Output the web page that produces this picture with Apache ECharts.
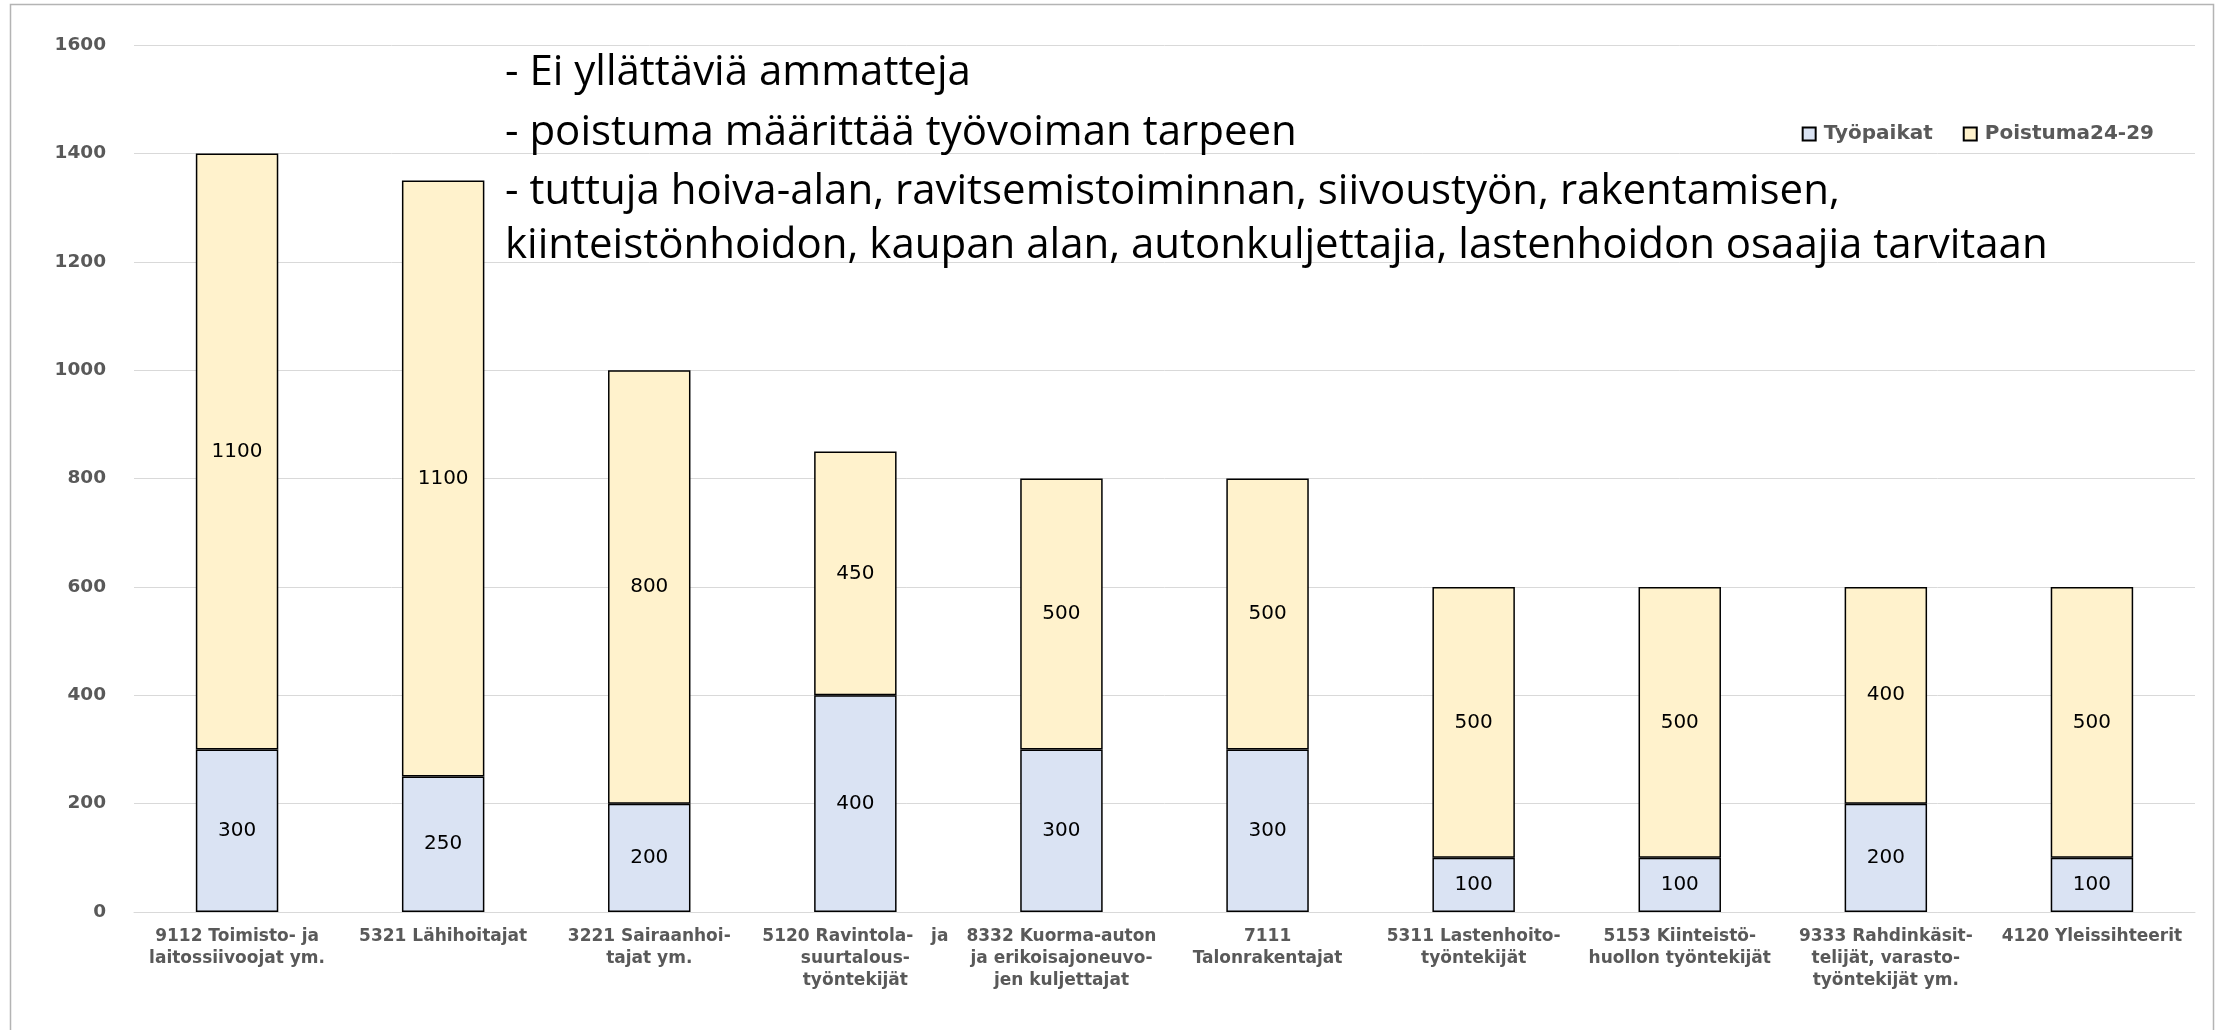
<!DOCTYPE html>
<html>
<head>
<meta charset="utf-8">
<script src="https://cdn.jsdelivr.net/npm/echarts@6/dist/echarts.min.js"></script>
<style>
html,body{margin:0;padding:0;background:#fff;}
#chart{width:2220px;height:1030px;}
</style>
</head>
<body>
<div id="chart"></div>
<script>
const categories = [
  "9112 Toimisto- ja\nlaitossiivoojat ym.",
  "5321 Lähihoitajat",
  "3221 Sairaanhoi-\ntajat ym.",
  "5120 Ravintola-   ja\nsuurtalous-\ntyöntekijät",
  "8332 Kuorma-auton\nja erikoisajoneuvo-\njen kuljettajat",
  "7111\nTalonrakentajat",
  "5311 Lastenhoito-\ntyöntekijät",
  "5153 Kiinteistö-\nhuollon työntekijät",
  "9333 Rahdinkäsit-\ntelijät, varasto-\ntyöntekijät ym.",
  "4120 Yleissihteerit"
];
const tyopaikat = [300, 250, 200, 400, 300, 300, 100, 100, 200, 100];
const poistuma = [1100, 1100, 800, 450, 500, 500, 500, 500, 400, 500];
const seriesNames = ["Työpaikat", "Poistuma24-29"];
const yTicks = { min: 0, max: 1600, interval: 200 };
const noteLines = [
  "- Ei yllättäviä ammatteja",
  "- poistuma määrittää työvoiman tarpeen",
  "- tuttuja hoiva-alan, ravitsemistoiminnan, siivoustyön, rakentamisen,",
  "kiinteistönhoidon, kaupan alan, autonkuljettajia, lastenhoidon osaajia tarvitaan"
];

const chart = echarts.init(document.getElementById('chart'), null, {renderer: 'canvas'});
const labelStyle = {
  show: true, position: 'inside', color: '#000',
  fontFamily: 'DejaVu Sans', fontSize: 20
};
const noteY = [73, 133, 192, 246];
const option = {
  backgroundColor: '#fff',
  animation: false,
  grid: { left: 134, right: 25, top: 45, bottom: 118, containLabel: false },
  legend: {
    data: seriesNames,
    right: 66, top: 124, padding: 0,
    itemWidth: 13, itemHeight: 13, itemGap: 30,
    icon: 'rect',
    textStyle: { fontFamily: 'DejaVu Sans', fontWeight: 'bold', fontSize: 20, color: '#595959', padding: [0,0,0,3] }
  },
  xAxis: {
    type: 'category',
    data: categories,
    axisTick: { show: false },
    axisLine: { lineStyle: { color: '#d9d9d9', width: 1 } },
    axisLabel: {
      interval: 0, margin: 14,
      fontFamily: 'DejaVu Sans', fontWeight: 'bold', fontSize: 17,
      color: '#595959', lineHeight: 22, align: 'center'
    }
  },
  yAxis: {
    type: 'value',
    min: yTicks.min, max: yTicks.max, interval: yTicks.interval,
    axisLine: { show: false }, axisTick: { show: false },
    splitLine: { lineStyle: { color: '#d9d9d9', width: 1 } },
    axisLabel: {
      margin: 28,
      formatter: v => String(v),
      fontFamily: 'DejaVu Sans', fontWeight: 'bold', fontSize: 18.5, color: '#595959'
    }
  },
  series: [
    {
      name: seriesNames[0], type: 'bar', stack: 'total', barWidth: '40%',
      data: tyopaikat,
      itemStyle: { color: '#DAE3F3', borderColor: '#000', borderWidth: 1.5 },
      label: labelStyle
    },
    {
      name: seriesNames[1], type: 'bar', stack: 'total', barWidth: '40%',
      data: poistuma,
      itemStyle: { color: '#FFF2CC', borderColor: '#000', borderWidth: 1.5 },
      label: labelStyle
    }
  ],
  graphic: [
    {
      type: 'rect', silent: true, z: -1,
      shape: { x: 10.5, y: 4.5, width: 2203, height: 1040 },
      style: { fill: 'none', stroke: '#b4b4b4', lineWidth: 1.5 }
    }
  ].concat(noteLines.map((t, i) => ({
    type: 'text', x: 505, y: noteY[i], z: 100,
    style: {
      text: t, fill: '#000', fontFamily: 'Open Sans', fontSize: 42,
      textVerticalAlign: 'middle', textAlign: 'left'
    }
  })))
};
chart.setOption(option);
</script>
</body>
</html>
